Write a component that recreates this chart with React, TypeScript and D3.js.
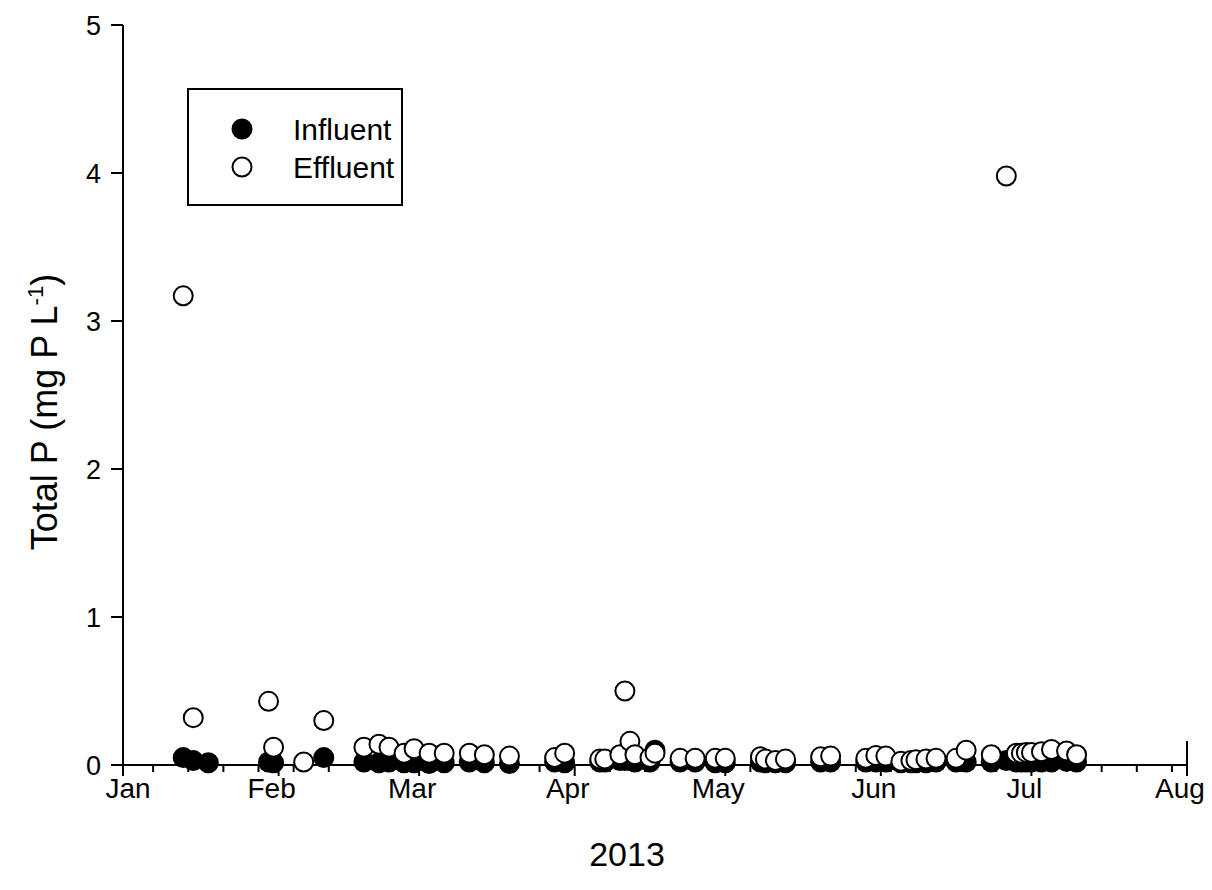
import React from "react";
import * as d3 from "d3";

// Sampling dates and total phosphorus (mg P/L), 2013
const influentDates = [
  "2013-01-13", "2013-01-15", "2013-01-18", "2013-01-30", "2013-01-31", "2013-02-10",
  "2013-02-18", "2013-02-21", "2013-02-23", "2013-02-26", "2013-02-28", "2013-03-03",
  "2013-03-06", "2013-03-11", "2013-03-14", "2013-03-19", "2013-03-28", "2013-03-30",
  "2013-04-06", "2013-04-07", "2013-04-10", "2013-04-11", "2013-04-12", "2013-04-13",
  "2013-04-16", "2013-04-17", "2013-04-22", "2013-04-25", "2013-04-29", "2013-05-01",
  "2013-05-08", "2013-05-09", "2013-05-11", "2013-05-13", "2013-05-20", "2013-05-22",
  "2013-05-29", "2013-05-31", "2013-06-02", "2013-06-05", "2013-06-07", "2013-06-08",
  "2013-06-10", "2013-06-12", "2013-06-16", "2013-06-18", "2013-06-23", "2013-06-26",
  "2013-06-28", "2013-06-29", "2013-06-30", "2013-07-01", "2013-07-03", "2013-07-05",
  "2013-07-08", "2013-07-10",
];
const influentValues = [
  0.05, 0.03, 0.015, 0.02, 0.015, 0.05,
  0.02, 0.015, 0.02, 0.015, 0.015, 0.01,
  0.015, 0.02, 0.015, 0.01, 0.02, 0.015,
  0.02, 0.02, 0.03, 0.03, 0.03, 0.02,
  0.02, 0.1, 0.02, 0.02, 0.015, 0.015,
  0.02, 0.015, 0.015, 0.015, 0.02, 0.02,
  0.02, 0.02, 0.02, 0.015, 0.015, 0.015,
  0.015, 0.02, 0.02, 0.02, 0.02, 0.03,
  0.02, 0.02, 0.02, 0.02, 0.02, 0.02,
  0.025, 0.02,
];

const effluentDates = [
  "2013-01-13", "2013-01-15", "2013-01-30", "2013-01-31", "2013-02-06", "2013-02-10",
  "2013-02-18", "2013-02-21", "2013-02-23", "2013-02-26", "2013-02-28", "2013-03-03",
  "2013-03-06", "2013-03-11", "2013-03-14", "2013-03-19", "2013-03-28", "2013-03-30",
  "2013-04-06", "2013-04-07", "2013-04-10", "2013-04-11", "2013-04-12", "2013-04-13",
  "2013-04-16", "2013-04-17", "2013-04-22", "2013-04-25", "2013-04-29", "2013-05-01",
  "2013-05-08", "2013-05-09", "2013-05-11", "2013-05-13", "2013-05-20", "2013-05-22",
  "2013-05-29", "2013-05-31", "2013-06-02", "2013-06-05", "2013-06-07", "2013-06-08",
  "2013-06-10", "2013-06-12", "2013-06-16", "2013-06-18", "2013-06-23", "2013-06-26",
  "2013-06-28", "2013-06-29", "2013-06-30", "2013-07-01", "2013-07-03", "2013-07-05",
  "2013-07-08", "2013-07-10",
];
const effluentValues = [
  3.17, 0.32, 0.43, 0.12, 0.02, 0.3,
  0.12, 0.14, 0.12, 0.08, 0.11, 0.08,
  0.08, 0.08, 0.07, 0.06, 0.05, 0.08,
  0.04, 0.04, 0.07, 0.5, 0.16, 0.07,
  0.05, 0.08, 0.045, 0.045, 0.045, 0.045,
  0.055, 0.04, 0.03, 0.04, 0.055, 0.06,
  0.045, 0.065, 0.06, 0.025, 0.03, 0.035,
  0.04, 0.045, 0.045, 0.1, 0.07, 3.98,
  0.08, 0.08, 0.085, 0.085, 0.09, 0.105,
  0.095, 0.07,
];

const yTicks = [0, 1, 2, 3, 4, 5];
const seriesNames = ["Influent", "Effluent"];

const W = 1212;
const H = 890;
const left = 123;
const right = 1187;
const top = 25;
const bottom = 765;
const FONT = "Arial, 'Liberation Sans', Helvetica, sans-serif";

const parse = d3.utcParse("%Y-%m-%d");

export default function App() {
  const x = d3
    .scaleUtc()
    .domain([Date.UTC(2013, 0, 1), Date.UTC(2013, 7, 1)])
    .range([left, right]);
  const y = d3.scaleLinear().domain([0, 5]).range([bottom, top]);

  const months = d3.utcMonth.range(new Date(Date.UTC(2013, 0, 1)), new Date(Date.UTC(2013, 7, 2)));
  const mondays = d3.utcMonday
    .range(new Date(Date.UTC(2013, 0, 1)), new Date(Date.UTC(2013, 7, 1)))
    .filter((d) => d.getUTCDate() !== 1);
  const monthFmt = d3.utcFormat("%b");

  const influent = influentDates.map((d, i) => ({ date: parse(d)!, value: influentValues[i] }));
  const effluent = effluentDates.map((d, i) => ({ date: parse(d)!, value: effluentValues[i] }));

  const r = 9.5;

  return (
    <svg
      width={W}
      height={H}
      style={{ position: "absolute", left: 0, top: 0, background: "#fff" }}
      fontFamily={FONT}
    >
      <rect x={0} y={0} width={W} height={H} fill="#fff" />

      {/* y axis */}
      <line x1={left} x2={left} y1={top} y2={bottom} stroke="#000" strokeWidth={2} />
      {yTicks.map((t) => (
        <g key={`yt${t}`}>
          <line x1={left - 12} x2={left} y1={y(t)} y2={y(t)} stroke="#000" strokeWidth={2} />
          <text x={left - 22} y={y(t)} dy="0.36em" textAnchor="end" fontSize={27}>
            {t}
          </text>
        </g>
      ))}

      {/* x axis */}
      <line x1={left} x2={right} y1={bottom} y2={bottom} stroke="#000" strokeWidth={2} />
      {mondays.map((d, i) => (
        <line key={`mn${i}`} x1={x(d)} x2={x(d)} y1={bottom} y2={bottom + 7} stroke="#000" strokeWidth={2} />
      ))}
      {months.map((d, i) => (
        <g key={`mo${i}`}>
          <line
            x1={x(d)}
            x2={x(d)}
            y1={i === months.length - 1 ? bottom - 24 : bottom}
            y2={bottom + 11}
            stroke="#000"
            strokeWidth={2}
          />
          <text x={x(d) + (i === 0 ? 5 : -7)} y={798} textAnchor="middle" fontSize={28}>
            {monthFmt(d)}
          </text>
        </g>
      ))}

      {/* points */}
      {influent.map((p, i) => (
        <circle key={`in${i}`} cx={x(p.date)} cy={y(p.value)} r={r} fill="#000" stroke="#000" strokeWidth={2} />
      ))}
      {effluent.map((p, i) => (
        <circle key={`ef${i}`} cx={x(p.date)} cy={y(p.value)} r={r} fill="#fff" stroke="#000" strokeWidth={2} />
      ))}

      {/* axis titles */}
      <text x={627} y={866} textAnchor="middle" fontSize={34}>
        2013
      </text>
      <text transform={`translate(57,412) rotate(-90)`} textAnchor="middle" fontSize={36}>
        Total P (mg P L
        <tspan dy={-14} fontSize={22}>-1</tspan>
        <tspan dy={14}>)</tspan>
      </text>

      {/* legend */}
      <rect x={188} y={89} width={214} height={116} fill="#fff" stroke="#000" strokeWidth={2} />
      <circle cx={242} cy={129} r={r} fill="#000" stroke="#000" strokeWidth={2} />
      <circle cx={242} cy={167} r={r} fill="#fff" stroke="#000" strokeWidth={2} />
      <text x={293} y={129} dy="0.36em" fontSize={30}>
        {seriesNames[0]}
      </text>
      <text x={293} y={167} dy="0.36em" fontSize={30}>
        {seriesNames[1]}
      </text>
    </svg>
  );
}
